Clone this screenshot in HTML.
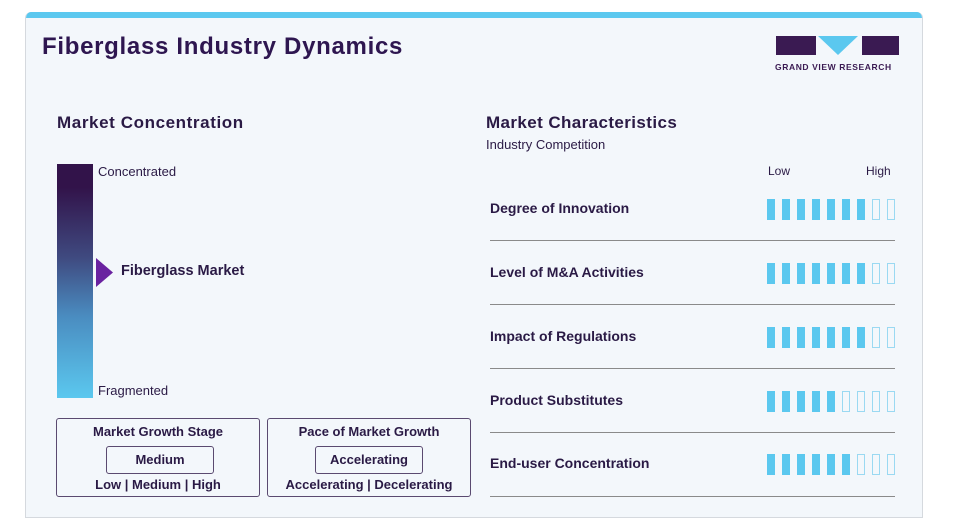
<!DOCTYPE html>
<html><head><meta charset="utf-8"><style>
*{margin:0;padding:0;box-sizing:border-box}
body{width:972px;height:531px;background:#fff;font-family:"Liberation Sans",sans-serif;position:relative;overflow:hidden;color:#2a1a45}
.card{position:absolute;left:25px;top:12px;width:898px;height:506px;background:#f3f7fb;border:1px solid #d5d9de;border-top:none;border-radius:6px 6px 0 0;overflow:hidden}
.top{position:absolute;left:0;top:0;width:100%;height:6px;background:#5bc8ef}
.a{position:absolute;white-space:nowrap}
.bar{position:absolute;width:8px;height:21px}
.f{background:#5bc8ef}
.e{border:1.3px solid #9ad9f2}
.line{position:absolute;left:490px;width:405px;height:1.3px;background:#8a8a8a}
.box{position:absolute;top:418px;height:79px;border:1.3px solid #5a4a70;border-radius:3px;text-align:center;font-size:13px;font-weight:bold;color:#2a1a45}
.in{position:absolute;top:27px;height:28px;border:1.3px solid #5a4a70;border-radius:3px;line-height:25px;font-size:13px}
</style></head><body>
<div class="card"><div class="top"></div></div>
<div class="a" style="left:42px;top:33px;font-size:24px;font-weight:900;color:#2e1650;letter-spacing:0.7px">Fiberglass Industry Dynamics</div>
<div class="a" style="left:776px;top:36px;width:40px;height:19px;background:#3a1a52"></div>
<svg class="a" style="left:818px;top:36px" width="40" height="19"><polygon points="0,0 40,0 20,19" fill="#5bc8ef"/></svg>
<div class="a" style="left:862px;top:36px;width:37px;height:19px;background:#3a1a52"></div>
<div class="a" style="left:775px;top:62px;font-size:8.5px;font-weight:bold;color:#3a1a52;letter-spacing:0.6px">GRAND VIEW RESEARCH</div>

<div class="a" style="left:57px;top:113px;font-size:17px;font-weight:bold;letter-spacing:0.6px">Market Concentration</div>
<div class="a" style="left:57px;top:164px;width:36px;height:234px;background:linear-gradient(#32134a 0%,#32134a 10%,#3f4a80 40%,#4a8cc0 65%,#5bc8ef 100%)"></div>
<div class="a" style="left:98px;top:164px;font-size:13px">Concentrated</div>
<div class="a" style="left:98px;top:383px;font-size:13px">Fragmented</div>
<svg class="a" style="left:96px;top:258px" width="18" height="29"><polygon points="0,0 17,14.5 0,29" fill="#6a22a0"/></svg>
<div class="a" style="left:121px;top:263px;font-size:14.5px;font-weight:bold">Fiberglass Market</div>

<div class="box" style="left:56px;width:204px"><div style="margin-top:5px">Market Growth Stage</div><div class="in" style="left:49px;width:108px">Medium</div><div style="position:absolute;top:58px;width:100%">Low | Medium | High</div></div>
<div class="box" style="left:267px;width:204px"><div style="margin-top:5px">Pace of Market Growth</div><div class="in" style="left:47px;width:108px">Accelerating</div><div style="position:absolute;top:58px;width:100%">Accelerating | Decelerating</div></div>

<div class="a" style="left:486px;top:113px;font-size:17px;font-weight:bold;letter-spacing:0.4px">Market Characteristics</div>
<div class="a" style="left:486px;top:137px;font-size:13px">Industry Competition</div>
<div class="a" style="left:768px;top:164px;font-size:12px">Low</div>
<div class="a" style="left:866px;top:164px;font-size:12px">High</div>

<div class="a" style="left:490px;top:200px;font-size:14px;font-weight:bold">Degree of Innovation</div>
<div class="a" style="left:490px;top:264px;font-size:14px;font-weight:bold">Level of M&amp;A Activities</div>
<div class="a" style="left:490px;top:328px;font-size:14px;font-weight:bold">Impact of Regulations</div>
<div class="a" style="left:490px;top:392px;font-size:14px;font-weight:bold">Product Substitutes</div>
<div class="a" style="left:490px;top:455px;font-size:14px;font-weight:bold">End-user Concentration</div>
<div class="line" style="top:240px"></div><div class="line" style="top:304px"></div><div class="line" style="top:368px"></div><div class="line" style="top:432px"></div><div class="line" style="top:496px"></div>
<div id="bars"></div>
<script>
var rows=[[199,7],[263,7],[327,7],[391,5],[454,6]],h='';
rows.forEach(function(r){for(var i=0;i<9;i++){h+='<div class="bar '+(i<r[1]?'f':'e')+'" style="left:'+(767+i*15)+'px;top:'+r[0]+'px"></div>';}});
document.getElementById('bars').innerHTML=h;
</script>
</body></html>
